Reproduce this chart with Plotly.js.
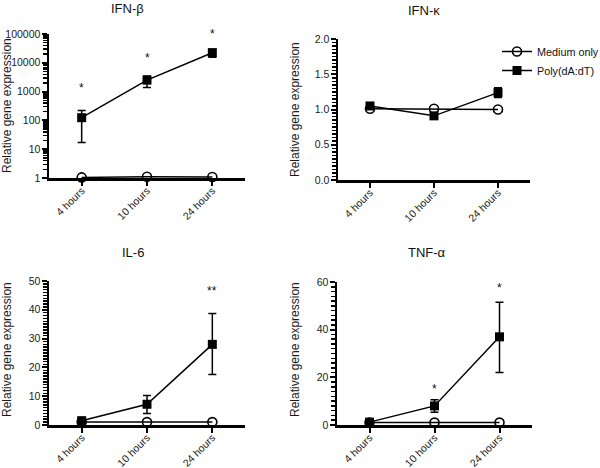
<!DOCTYPE html>
<html><head><meta charset="utf-8">
<script src="https://cdn.plot.ly/plotly-3.0.1.min.js"></script>
<style>body{margin:0;background:#fff}#c{width:600px;height:468px}</style>
</head><body><div id="c"></div>
<script>
const categories = ["4 hours", "10 hours", "24 hours"];
const panelTitles = ["IFN-β", "IFN-κ", "IL-6", "TNF-α"];
const seriesNames = ["Medium only", "Poly(dA:dT)"];
const yTitle = "Relative gene expression";

const ifnbMedium = [1.05, 1.1, 1.08];
const ifnbPoly = [124, 2500, 22400];
const ifnbPolyPlus = [95, 1000, 7300];
const ifnbPolyMinus = [107, 1100, 6900];

const ifnkMedium = [1.01, 1.01, 1.0];
const ifnkPoly = [1.05, 0.91, 1.24];
const ifnkPolyPlus = [0.04, 0.04, 0.07];
const ifnkPolyMinus = [0.04, 0.04, 0.07];

const il6Medium = [1, 1, 1];
const il6Poly = [1.5, 7.2, 28];
const il6PolyPlus = [0.6, 3.0, 10.7];
const il6PolyMinus = [0.6, 3.2, 10.5];

const tnfMedium = [1, 1, 1];
const tnfPoly = [1.2, 8, 37];
const tnfPolyPlus = [0.6, 2.6, 14.5];
const tnfPolyMinus = [0.6, 2.6, 15];

const ifnbStars = ["*", "*", "*"];
const ifnbStarY = [1330, 14700, 100000];
const il6Stars = ["", "", "**"];
const il6StarY = [0, 0, 46.5];
const tnfStars = ["", "*", "*"];
const tnfStarY = [0, 15.1, 57.5];

const panels = [
  {med: ifnbMedium, poly: ifnbPoly, plus: ifnbPolyPlus, minus: ifnbPolyMinus, stars: ifnbStars, starY: ifnbStarY},
  {med: ifnkMedium, poly: ifnkPoly, plus: ifnkPolyPlus, minus: ifnkPolyMinus, stars: ["","",""], starY: [0,0,0]},
  {med: il6Medium, poly: il6Poly, plus: il6PolyPlus, minus: il6PolyMinus, stars: il6Stars, starY: il6StarY},
  {med: tnfMedium, poly: tnfPoly, plus: tnfPolyPlus, minus: tnfPolyMinus, stars: tnfStars, starY: tnfStarY}
];

const H = 468, W = 600;
const xDom = [[49/W, 245/W], [338/W, 530/W], [49/W, 245/W], [337/W, 532/W]];
const yDom = [[1-178/H, 1-34/H], [1-180/H, 1-39/H], [1-425/H, 1-281/H], [1-425/H, 1-282/H]];
const titlePos = [[127, 8], [424, 10], [133, 253], [427, 253]];
const yTitlePos = [[7, 106], [295, 110], [7, 350], [295, 350]];
const FONT = "Liberation Sans, Arial, sans-serif";

const traces = [];
const annotations = [];
const layout = {
  width: W, height: H, margin: {l:0, r:0, t:0, b:0, autoexpand: false},
  paper_bgcolor: "#fff", plot_bgcolor: "#fff",
  font: {family: FONT, size: 11, color: "#111"},
  showlegend: true,
  legend: {x: 497/W, y: 1-37/H, xanchor: "left", yanchor: "top", font: {size: 10.8, family: FONT, color: "#111"},
           bgcolor: "rgba(0,0,0,0)", tracegroupgap: 0, itemwidth: 30},
  annotations: annotations
};

const yConf = [
  {type: "log", range: [0, 5], tickmode: "linear", tick0: 0, dtick: 1, tickformat: "d", minor: {dtick: "D1"}},
  {range: [0, 2], tickmode: "linear", tick0: 0, dtick: 0.5, tickformat: ".1f", minor: {tickmode: "linear", tick0: 0, dtick: 0.05}},
  {range: [0, 50], tickmode: "linear", tick0: 0, dtick: 10, minor: {tickmode: "linear", tick0: 0, dtick: 1}},
  {range: [0, 60], tickmode: "linear", tick0: 0, dtick: 20, minor: {tickmode: "linear", tick0: 0, dtick: 2}}
];

panels.forEach((p, i) => {
  const n = i + 1;
  const xa = "x" + (n === 1 ? "" : n), ya = "y" + (n === 1 ? "" : n);
  const xk = "xaxis" + (n === 1 ? "" : n), yk = "yaxis" + (n === 1 ? "" : n);
  traces.push({
    type: "scatter", mode: "lines+markers", x: categories, y: p.med, xaxis: xa, yaxis: ya,
    name: seriesNames[0], showlegend: i === 1, legendrank: 1, cliponaxis: false,
    line: {color: "#000", width: 1.5},
    marker: {symbol: "circle-open", size: 9, color: "#000", line: {width: 1.6, color: "#000"}}
  });
  traces.push({
    type: "scatter", mode: "lines+markers", x: categories, y: p.poly, xaxis: xa, yaxis: ya,
    name: seriesNames[1], showlegend: i === 1, legendrank: 2, cliponaxis: false,
    line: {color: "#000", width: 1.5},
    marker: {symbol: "square", size: 9, color: "#000"},
    error_y: {type: "data", symmetric: false, array: p.plus, arrayminus: p.minus, color: "#000", thickness: 1.5, width: 4}
  });
  layout[xk] = {
    domain: xDom[i], anchor: ya, type: "category", categoryarray: categories, range: [-0.5, 2.5],
    showline: true, linecolor: "#000", linewidth: 2.5, ticks: "outside", ticklen: 5, tickwidth: 2, tickcolor: "#000",
    tickangle: -45, ticklabelstandoff: -5, showgrid: false, zeroline: false, fixedrange: true,
    tickfont: {family: FONT, size: 10.5, color: "#1a1a1a"}
  };
  const yc = yConf[i];
  layout[yk] = Object.assign({
    domain: yDom[i], anchor: xa,
    showline: true, linecolor: "#000", linewidth: 2.5, ticks: "outside", ticklen: 5, tickwidth: 2, tickcolor: "#000",
    showgrid: false, zeroline: false, fixedrange: true, ticklabelstandoff: -1,
    tickfont: {family: FONT, size: 10.5, color: "#1a1a1a"}
  }, yc);
  layout[yk].minor = Object.assign({ticks: "outside", ticklen: 4, tickwidth: 1.5, tickcolor: "#000", showgrid: false}, yc.minor);
  annotations.push({
    text: panelTitles[i], xref: "paper", yref: "paper",
    x: titlePos[i][0] / W, y: 1 - titlePos[i][1] / H,
    xanchor: "center", yanchor: "middle", showarrow: false,
    font: {family: FONT, size: 13, color: "#111"}
  });
  annotations.push({
    text: yTitle, xref: "paper", yref: "paper", textangle: -90,
    x: yTitlePos[i][0] / W, y: 1 - yTitlePos[i][1] / H,
    xanchor: "center", yanchor: "middle", showarrow: false,
    font: {family: FONT, size: 12, color: "#1a1a1a"}
  });
  p.stars.forEach((s, k) => {
    if (!s) return;
    annotations.push({
      text: s, xref: xa, yref: ya, x: categories[k],
      y: yc.type === "log" ? Math.log10(p.starY[k]) : p.starY[k],
      showarrow: false, xanchor: "center", yanchor: "middle",
      font: {family: FONT, size: 12, color: "#111"}
    });
  });
});

Plotly.newPlot("c", traces, layout, {staticPlot: true});
</script></body></html>
